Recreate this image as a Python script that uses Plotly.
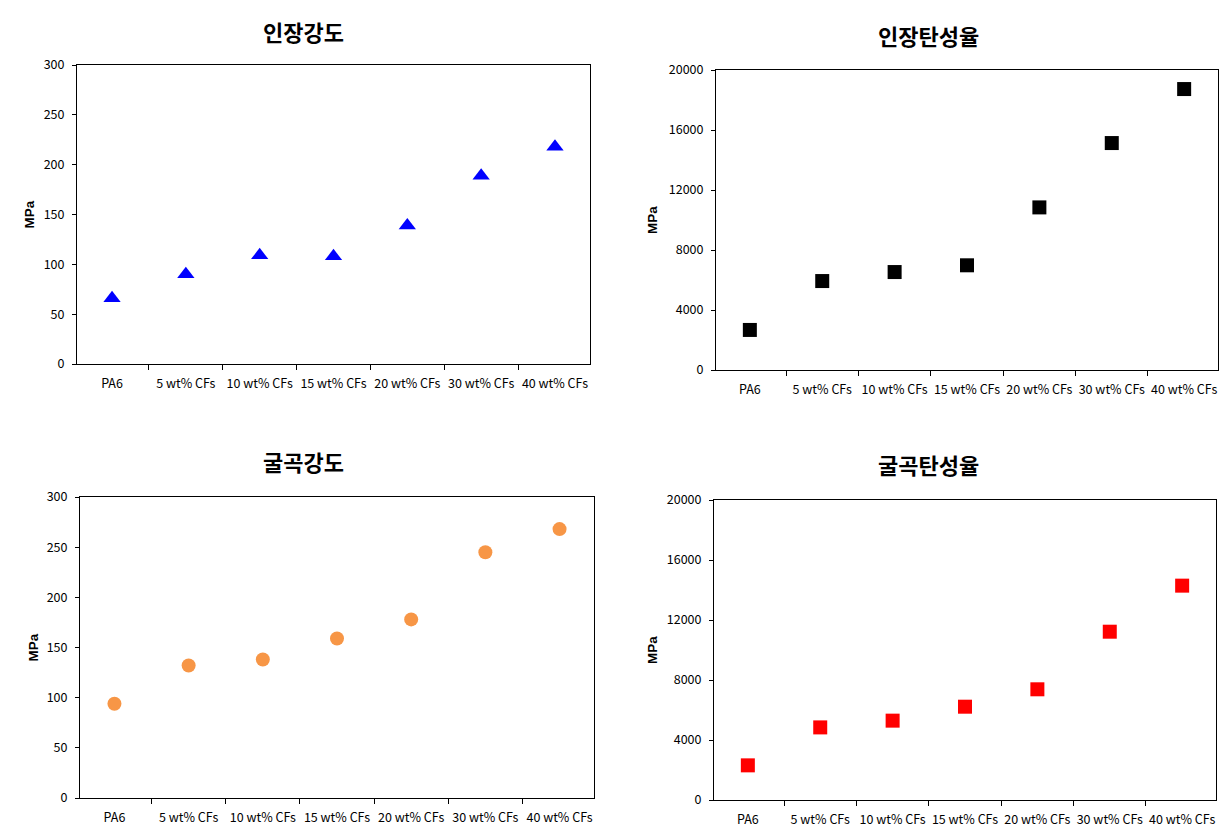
import plotly.graph_objects as go

categories = ["PA6", "5 wt% CFs", "10 wt% CFs", "15 wt% CFs", "20 wt% CFs", "30 wt% CFs", "40 wt% CFs"]
tensile_strength = [66, 90, 109, 108, 139, 189, 218]
tensile_modulus = [2670, 5930, 6530, 6980, 10840, 15130, 18730]
flexural_strength = [94, 132, 138, 159, 178, 245, 268]
flexural_modulus = [2310, 4840, 5290, 6220, 7380, 11220, 14290]

titles = ["인장강도", "인장탄성율", "굴곡강도", "굴곡탄성율"]
ytitle = "MPa"

W, H = 1232, 834
OFF = 7  # page offset of the figure inside the browser window

def px_x(a, b):
    return [(a - OFF) / W, (b - OFF) / W]

def px_y(top, bottom):
    return [1 - (bottom - OFF) / H, 1 - (top - OFF) / H]

def ax_x(v):
    return (v - OFF) / W

def ax_y(v):
    return 1 - (v - OFF) / H

panels = [
    dict(data=tensile_strength, xd=px_x(76, 589), yd=px_y(64, 363), yr=[0, 300], dt=50,
         marker=dict(symbol="triangle-up", size=15, color="#0000FF"), tx=302, ty=30, mx=28),
    dict(data=tensile_modulus, xd=px_x(715, 1217), yd=px_y(69, 369), yr=[0, 20000], dt=4000,
         marker=dict(symbol="square", size=14, color="#000000"), tx=927, ty=34, mx=652),
    dict(data=flexural_strength, xd=px_x(79, 593), yd=px_y(496, 797), yr=[0, 300], dt=50,
         marker=dict(symbol="circle", size=14, color="#F79646"), tx=302, ty=460, mx=32),
    dict(data=flexural_modulus, xd=px_x(713, 1215), yd=px_y(499, 799), yr=[0, 20000], dt=4000,
         marker=dict(symbol="square", size=14, color="#FF0000"), tx=927, ty=463, mx=651),
]

fig = go.Figure()
annotations = []
tick_font = dict(family="Noto Sans CJK KR, Noto Sans, sans-serif", size=12.5, color="#000000")

for i, p in enumerate(panels):
    n = "" if i == 0 else str(i + 1)
    fig.add_trace(go.Scatter(
        x=categories, y=p["data"], mode="markers",
        marker=dict(line=dict(width=0), **p["marker"]),
        xaxis="x" + n, yaxis="y" + n, showlegend=False,
    ))
    fig.layout["xaxis" + n] = dict(
        domain=p["xd"], anchor="y" + n, type="category",
        categoryorder="array", categoryarray=categories,
        tickson="boundaries", ticks="outside", ticklen=5, tickcolor="#000000",
        tickangle=0,
        showline=True, linecolor="#000000", linewidth=1, mirror=True,
        showgrid=False, zeroline=False, tickfont=tick_font, ticklabelstandoff=8,
        automargin=False,
    )
    fig.layout["yaxis" + n] = dict(
        domain=p["yd"], anchor="x" + n, range=p["yr"], dtick=p["dt"], tick0=0,
        tickformat="d",
        ticks="outside", ticklen=4, tickcolor="#000000",
        showline=True, linecolor="#000000", linewidth=1, mirror=True,
        showgrid=False, zeroline=False, tickfont=tick_font, ticklabelstandoff=5,
        automargin=False,
    )
    annotations.append(dict(
        text="<b>" + titles[i] + "</b>", x=ax_x(p["tx"]), y=ax_y(p["ty"]),
        xref="paper", yref="paper", showarrow=False, xanchor="center", yanchor="middle",
        font=dict(family="Noto Sans CJK KR", size=22, color="#000000"),
    ))
    annotations.append(dict(
        text="<b>" + ytitle + "</b>", x=ax_x(p["mx"]), y=(p["yd"][0] + p["yd"][1]) / 2,
        xref="paper", yref="paper", showarrow=False, xanchor="center", yanchor="middle",
        textangle=-90, font=dict(family="Arial, Liberation Sans, sans-serif", size=13.5, color="#000000"),
    ))

fig.update_layout(
    template="none",
    width=W, height=H, margin=dict(l=0, r=0, t=0, b=0, autoexpand=False),
    paper_bgcolor="#FFFFFF", plot_bgcolor="#FFFFFF",
    annotations=annotations,
)

fig.write_html("out.html")
